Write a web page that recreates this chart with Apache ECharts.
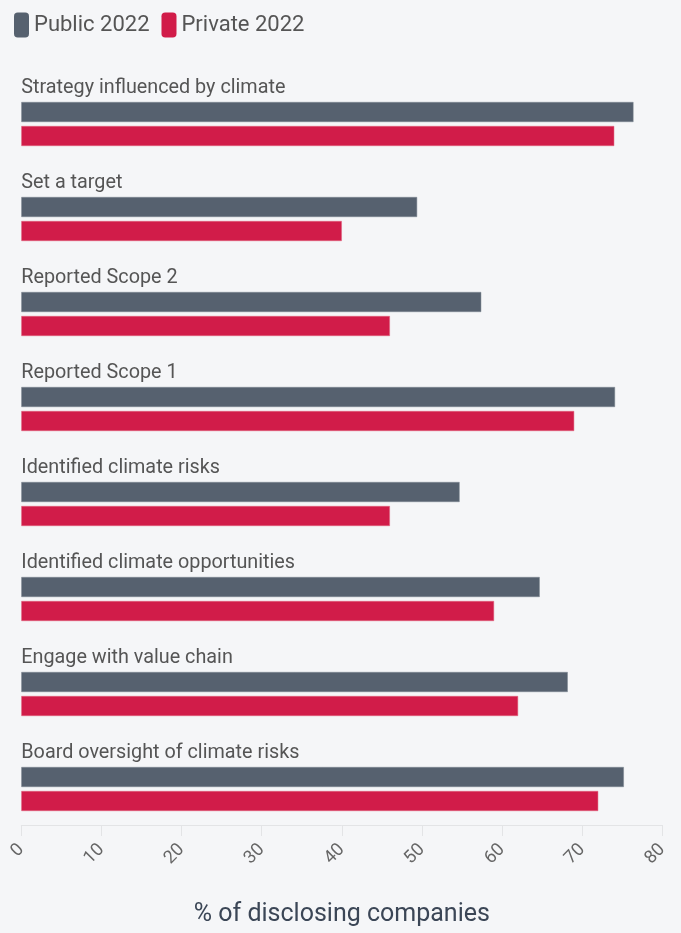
<!DOCTYPE html>
<html>
<head>
<meta charset="utf-8">
<script src="https://cdn.jsdelivr.net/npm/echarts@6/dist/echarts.min.js"></script>
<style>
html,body{margin:0;padding:0;background:#f5f6f8;}
#chart{width:681px;height:933px;}
</style>
</head>
<body>
<div id="chart"></div>
<script>
const categories = [
  "Strategy influenced by climate",
  "Set a target",
  "Reported Scope 2",
  "Reported Scope 1",
  "Identified climate risks",
  "Identified climate opportunities",
  "Engage with value chain",
  "Board oversight of climate risks"
];
const seriesNames = ["Public 2022", "Private 2022"];
const publicValues = [76.4, 49.4, 57.4, 74.1, 54.7, 64.7, 68.2, 75.2];
const privateValues = [74, 40, 46, 69, 46, 59, 62, 72];
const xTicks = { min: 0, max: 80, interval: 10 };
const xTitle = "% of disclosing companies";

const chart = echarts.init(document.getElementById('chart'), null, {renderer: 'canvas'});
chart.setOption({
  backgroundColor: '#f5f6f8',
  textStyle: { fontFamily: 'Roboto' },
  legend: {
    data: seriesNames,
    left: 9, top: 7.5,
    icon: 'roundRect',
    itemWidth: 15, itemHeight: 25, itemGap: 12,
    itemStyle: { borderWidth: 0 },
    textStyle: { fontFamily: 'Roboto', fontSize: 22, color: '#555' }
  },
  grid: { left: 21.3, right: 18.7, top: 76.5, bottom: 96.5, containLabel: false },
  xAxis: {
    type: 'value',
    min: xTicks.min, max: xTicks.max, interval: xTicks.interval,
    offset: -11.5,
    name: xTitle,
    nameLocation: 'middle',
    nameGap: 77,
    nameTextStyle: { fontFamily: 'Roboto', fontSize: 25, color: '#3b4656' },
    axisLine: { show: true, lineStyle: { color: '#e3e4e6', width: 1 } },
    axisTick: { show: true, length: 11, lineStyle: { color: '#e3e4e6' } },
    splitLine: { show: false },
    axisLabel: { rotate: 45, margin: 22, fontFamily: 'Roboto', fontSize: 18, color: '#666' }
  },
  yAxis: {
    type: 'category',
    data: categories,
    inverse: true,
    axisLine: { show: false },
    axisTick: { show: false },
    splitLine: { show: false },
    axisLabel: { show: false }
  },
  series: [
    { name: seriesNames[0], type: 'bar', data: publicValues, barWidth: 20, barGap: '20%',
      itemStyle: { color: '#56616f', borderColor: '#7d8691', borderWidth: 0.5 },
      label: {
        show: true, formatter: '{b}', position: [0, -14],
        align: 'left', verticalAlign: 'middle',
        fontFamily: 'Roboto', fontSize: 19.8, color: '#555'
      }
    },
    { name: seriesNames[1], type: 'bar', data: privateValues, barWidth: 20,
      itemStyle: { color: '#d11c49', borderColor: '#e0647f', borderWidth: 0.5 } }
  ]
});
</script>
</body>
</html>
